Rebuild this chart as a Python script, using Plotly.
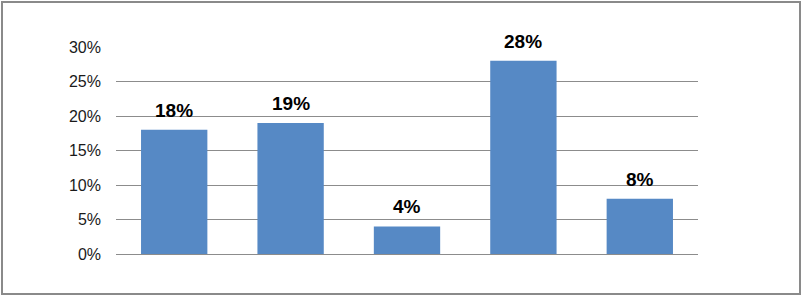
import plotly.graph_objects as go

categories = ["A", "B", "C", "D", "E"]
values = [0.18, 0.19, 0.04, 0.28, 0.08]
tick_vals = [0, 0.05, 0.10, 0.15, 0.20, 0.25, 0.30]
tick_text = ["0%", "5%", "10%", "15%", "20%", "25%", "30%"]

W, H = 802, 296
ml, mr, mt, mb = 116, 104, 47, 42
pw, ph = W - ml - mr, H - mt - mb

fig = go.Figure()
fig.add_trace(go.Bar(
    x=categories, y=values,
    marker=dict(color="#5689C5", line=dict(width=0)),
    width=0.57,
    hoverinfo="skip",
))

for c, v in zip(categories, values):
    fig.add_annotation(
        x=c, y=v, text=f"{round(v*100)}%", showarrow=False,
        yanchor="bottom", yshift=7,
        font=dict(family="Liberation Sans, Arial", size=19, color="#000000", weight="bold"),
    )

# outer frame
def px_x(p):
    return (p - ml) / pw
def px_y(p):
    return 1 - (p - mt) / ph

fig.add_shape(type="rect", xref="paper", yref="paper",
              x0=px_x(2), x1=px_x(800), y0=px_y(294), y1=px_y(2),
              line=dict(color="#8a8a8a", width=2), fillcolor="rgba(0,0,0,0)", layer="above")

fig.update_layout(
    width=W, height=H,
    margin=dict(l=ml, r=mr, t=mt, b=mb, pad=0),
    paper_bgcolor="white", plot_bgcolor="white",
    showlegend=False,
    bargap=0.43,
    xaxis=dict(showticklabels=False, showgrid=False, zeroline=False, showline=False, ticks=""),
    yaxis=dict(range=[0, 0.30], tickvals=tick_vals, ticktext=tick_text,
               showgrid=True, gridcolor="#8c8c8c", gridwidth=1,
               zeroline=True, zerolinecolor="#8c8c8c", zerolinewidth=1,
               showline=False, ticks="", ticklabelstandoff=14,
               tickfont=dict(family="Liberation Sans, Arial", size=16, color="#1a1a1a")),
)

fig.write_html("out.html", config={"displayModeBar": False},
               post_script="document.body.style.margin='0';document.body.style.padding='0';document.body.style.overflow='hidden';")
